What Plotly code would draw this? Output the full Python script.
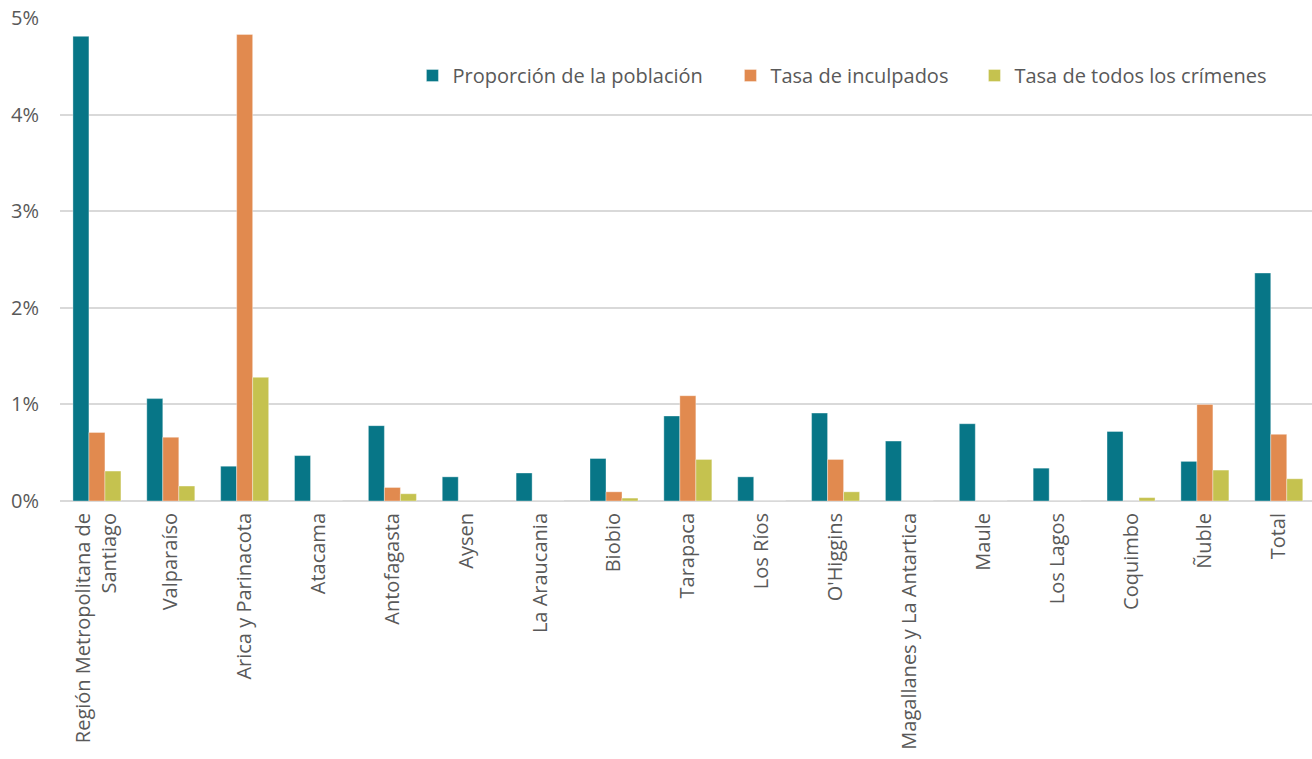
import plotly.graph_objects as go

regiones = [
    "Región Metropolitana de<br>Santiago", "Valparaíso", "Arica y Parinacota", "Atacama",
    "Antofagasta", "Aysen", "La Araucania", "Biobio", "Tarapaca", "Los Ríos",
    "O'Higgins", "Magallanes y La Antartica", "Maule", "Los Lagos", "Coquimbo",
    "Ñuble", "Total",
]

# valores en porcentaje
proporcion_poblacion = [4.81, 1.06, 0.36, 0.47, 0.78, 0.25, 0.29, 0.44, 0.88, 0.25,
                        0.91, 0.62, 0.80, 0.34, 0.72, 0.41, 2.36]
tasa_inculpados = [0.71, 0.66, 4.83, 0.0, 0.14, 0.0, 0.0, 0.095, 1.09, 0.0,
                   0.43, 0.0, 0.0, 0.0, 0.0, 1.00, 0.69]
tasa_todos_crimenes = [0.31, 0.155, 1.28, 0.0, 0.075, 0.0, 0.0, 0.03, 0.43, 0.0,
                       0.095, 0.0, 0.0, 0.0, 0.035, 0.32, 0.23]

series = [
    ("Proporción de la población", proporcion_poblacion, "#077687"),
    ("Tasa de inculpados", tasa_inculpados, "#E18A4F"),
    ("Tasa de todos los crímenes", tasa_todos_crimenes, "#C5C24F"),
]

x_idx = list(range(len(regiones)))
texto = "#595959"

# una leyenda por serie para poder ubicar cada entrada por separado
leyendas = ["legend", "legend2", "legend3"]
leyenda_x = [0.2815, 0.5355, 0.7304]

fig = go.Figure()
for (nombre, valores, color), ley in zip(series, leyendas):
    fig.add_trace(go.Bar(
        x=x_idx, y=valores, name=nombre, legend=ley,
        marker=dict(color=color, line=dict(color="rgba(255,255,255,0.6)", width=0.6)),
    ))

def estilo_leyenda(x):
    return dict(
        orientation="h", x=x, y=0.881, xanchor="left", yanchor="middle",
        font=dict(family="Open Sans", size=20, color=texto),
        bgcolor="rgba(0,0,0,0)", itemwidth=30,
    )

fig.update_layout(
    width=1312, height=759,
    margin=dict(l=60, r=0, t=17.5, b=258),
    paper_bgcolor="white", plot_bgcolor="white",
    barmode="group", bargap=0.35, bargroupgap=0,
    font=dict(family="Open Sans", size=20, color=texto),
    showlegend=True,
    legend=estilo_leyenda(leyenda_x[0]),
    legend2=estilo_leyenda(leyenda_x[1]),
    legend3=estilo_leyenda(leyenda_x[2]),
    xaxis=dict(
        tickmode="array", tickvals=x_idx, ticktext=regiones,
        range=[-0.5, 16.45], tickangle=-90, showgrid=False,
        showline=False, ticks="", ticklabelstandoff=7, automargin=False,
        tickfont=dict(size=20, color=texto),
    ),
    yaxis=dict(
        range=[0, 5], dtick=1, ticksuffix="%", showgrid=True,
        gridcolor="#D9D9D9", gridwidth=1.5, zeroline=True,
        zerolinecolor="#D9D9D9", zerolinewidth=1.5, showline=False,
        ticks="", ticklabelstandoff=20, automargin=False,
        tickfont=dict(size=20, color=texto),
    ),
)

fig.write_html("out.html")
